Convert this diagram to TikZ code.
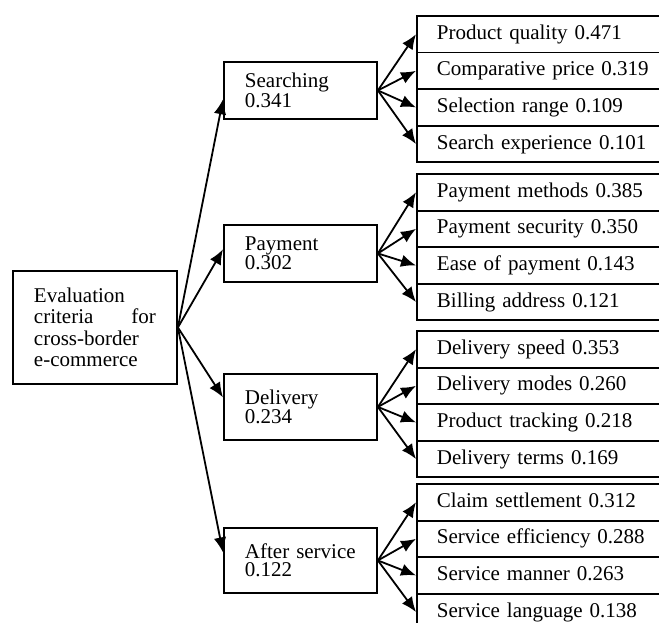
\documentclass[tikz,border=0pt]{standalone}
\usepackage{fontspec}
\setmainfont{Liberation Serif}
\usetikzlibrary{arrows.meta,calc}

\tikzset{
  box/.style={draw, line width=1.9pt, inner ysep=0pt, anchor=north west, align=left,
    font=\fontsize{21}{18}\selectfont},
  crit/.style={box, text width=111pt, inner xsep=21pt},
  sub/.style={box, text width=260pt, inner xsep=20pt, minimum height=36.6pt,
    text height=14.5pt, text depth=4.5pt},
  arr/.style={-{Latex[length=15pt,width=12.5pt]}, line width=1.8pt}
}

\begin{document}
\begin{tikzpicture}[x=1pt,y=-1pt]
	\path[use as bounding box, clip] (0,0) rectangle (659,623);
	% goal
	\node[box, text width=122pt, inner xsep=21pt, minimum height=113pt,
		font=\fontsize{21}{21.3}\selectfont] (goal) at (12,270)
		{Evaluation\\criteria\hfill for\\cross-border\\e-commerce};
	% criteria
	\node[crit, minimum height=57pt] (srch) at (223,61) {Searching\\0.341};
	\node[crit, minimum height=57pt] (pay) at (223,224) {Payment\\0.302};
	\node[crit, minimum height=66pt] (dlv) at (223,373) {Delivery\\0.234};
	\node[crit, minimum height=65pt] (aftr) at (223,527) {After service\\0.122};
	% goal -> criteria
	\draw[arr] (goal.east) -- ($(srch.north west)!0.65!(srch.south west)$);
	\draw[arr] (goal.east) -- ($(pay.north west)!0.43!(pay.south west)$);
	\draw[arr] (goal.east) -- ($(dlv.north west)!0.36!(dlv.south west)$);
	\draw[arr] (goal.east) -- ($(aftr.north west)!0.38!(aftr.south west)$);
	% sub-criteria
	\foreach \t [count=\i] in {Product quality 0.471, Comparative price 0.319,
		Selection range 0.109, Search experience 0.101} {
		\node[sub] (s\i) at (416,15+36.6*\i-36.6) {\t};
		\draw[arr] (srch.east) -- (s\i.west);
	}
	\foreach \t [count=\i] in {Payment methods 0.385, Payment security 0.350,
		Ease of payment 0.143, Billing address 0.121} {
		\node[sub] (p\i) at (416,173+36.6*\i-36.6) {\t};
		\draw[arr] (pay.east) -- (p\i.west);
	}
	\foreach \t [count=\i] in {Delivery speed 0.353, Delivery modes 0.260,
		Product tracking 0.218, Delivery terms 0.169} {
		\node[sub] (d\i) at (416,330+36.6*\i-36.6) {\t};
		\draw[arr] (dlv.east) -- (d\i.west);
	}
	\foreach \t [count=\i] in {Claim settlement 0.312, Service efficiency 0.288,
		Service manner 0.263, Service language 0.138} {
		\node[sub] (a\i) at (416,483+36.6*\i-36.6) {\t};
		\draw[arr] (aftr.east) -- (a\i.west);
	}
\end{tikzpicture}
\end{document}
